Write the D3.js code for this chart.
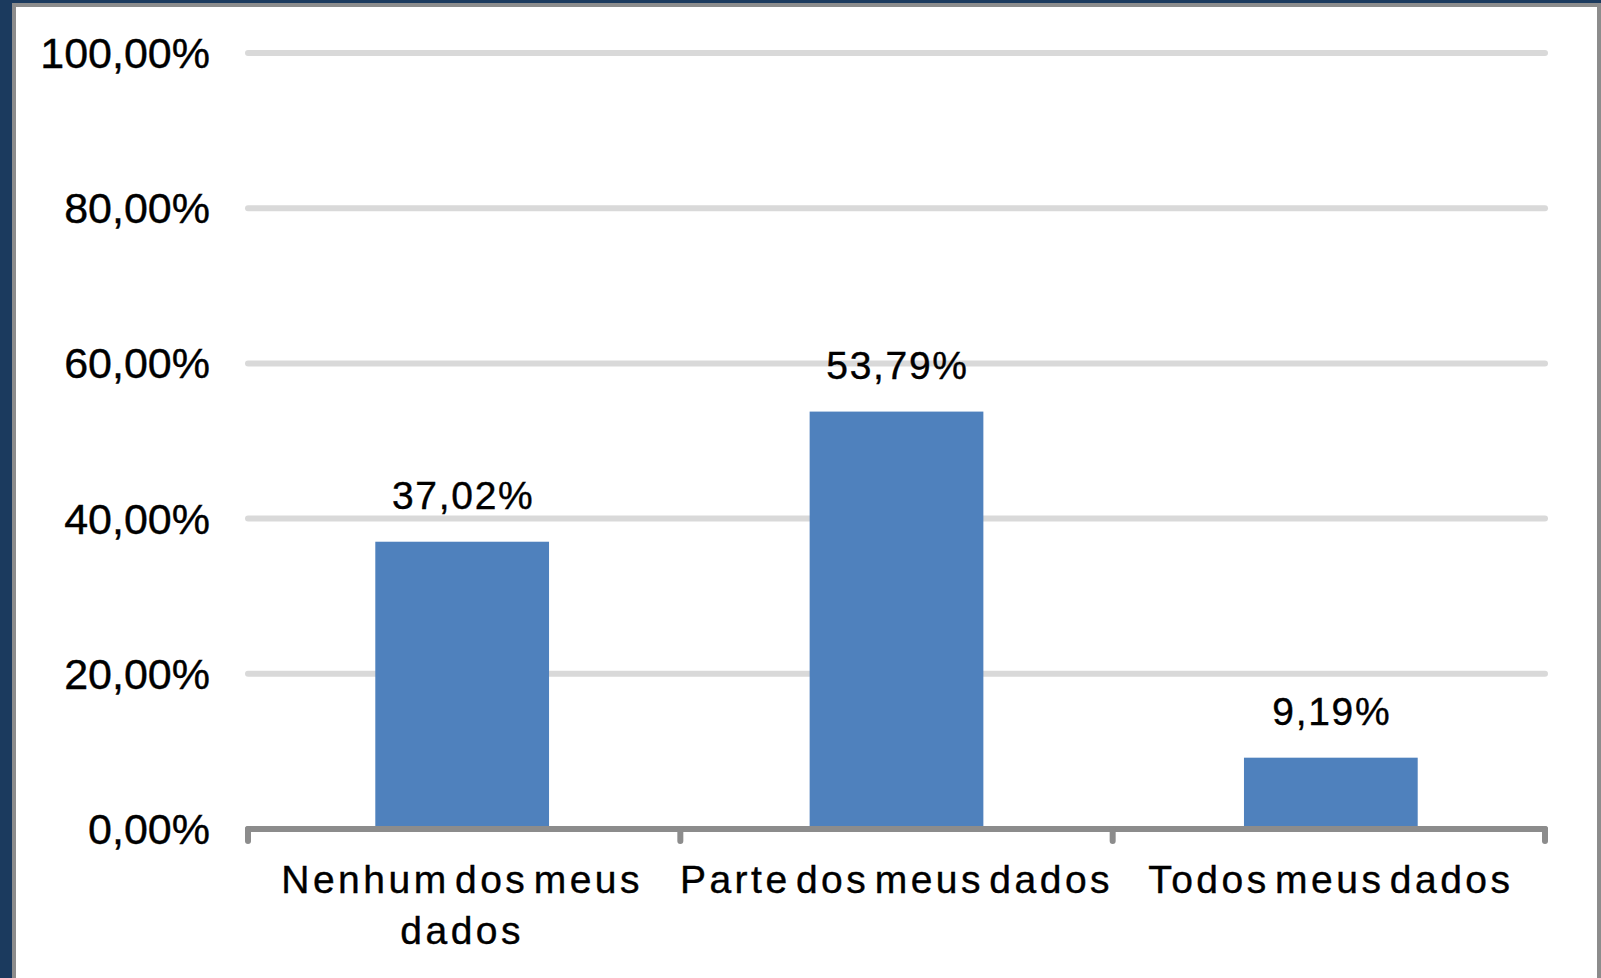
<!DOCTYPE html>
<html>
<head>
<meta charset="utf-8">
<script src="https://cdn.jsdelivr.net/npm/d3@7/dist/d3.min.js"></script>
<style>
  html, body { margin: 0; padding: 0; background: #1b3a5e; }
  svg { display: block; }
  text { font-family: "Liberation Sans", Arial, sans-serif; fill: #000; stroke: #000; stroke-width: 0.4px; }
</style>
</head>
<body>
<svg id="chart" width="1601" height="978"></svg>
<script>
const categories = [["Nenhum dos meus", "dados"], ["Parte dos meus dados"], ["Todos meus dados"]];
const values = [37.02, 53.79, 9.19];
const valueLabels = ["37,02%", "53,79%", "9,19%"];
const tickValues = [0, 20, 40, 60, 80, 100];
const tickLabels = ["0,00%", "20,00%", "40,00%", "60,00%", "80,00%", "100,00%"];

(function () {
const svg = d3.select("#chart");
const W = 1601, H = 978;

// frame
svg.append("rect").attr("x", 0).attr("y", 0).attr("width", W).attr("height", H).attr("fill", "#1b3a5e");
svg.append("rect").attr("x", 12).attr("y", 3).attr("width", W - 12).attr("height", H - 3).attr("fill", "#8c8c8c");
svg.append("rect").attr("x", 16).attr("y", 7).attr("width", W - 16 - 4).attr("height", H - 7).attr("fill", "#ffffff");

const pLeft = 245, pRight = 1548, pTop = 53, pBottom = 829;
const cap = 3;

const x = d3.scaleBand()
  .domain(d3.range(categories.length))
  .range([pLeft, pRight])
  .paddingInner(0.6)
  .paddingOuter(0.3);

const y = d3.scaleLinear().domain([0, 100]).range([pBottom, pTop]);

// gridlines
svg.append("g").selectAll("line")
  .data(tickValues.filter(d => d > 0))
  .join("line")
  .attr("x1", pLeft + cap).attr("x2", pRight - cap)
  .attr("y1", d => y(d)).attr("y2", d => y(d))
  .attr("stroke", "#d9d9d9").attr("stroke-width", 6).attr("stroke-linecap", "round");

// y tick labels
svg.append("g").selectAll("text")
  .data(tickValues)
  .join("text")
  .attr("x", 210)
  .attr("y", d => y(d) + 15)
  .attr("text-anchor", "end")
  .attr("font-size", 43)
  .text((d, i) => tickLabels[i]);

// bars
svg.append("g").selectAll("rect")
  .data(values)
  .join("rect")
  .attr("x", (d, i) => x(i))
  .attr("width", x.bandwidth())
  .attr("y", d => y(d))
  .attr("height", d => y(0) - y(d))
  .attr("fill", "#4f81bd");

// data labels
svg.append("g").selectAll("text")
  .data(values)
  .join("text")
  .attr("x", (d, i) => x(i) + x.bandwidth() / 2 + 1)
  .attr("y", d => y(d) - 33)
  .attr("text-anchor", "middle")
  .attr("font-size", 39)
  .attr("letter-spacing", 1.7)
  .text((d, i) => valueLabels[i]);

// x axis line with ticks
const boundaries = d3.range(categories.length + 1).map(i => pLeft + cap + i * (pRight - pLeft - 2 * cap) / categories.length);
const axis = svg.append("g");
axis.append("line")
  .attr("x1", pLeft + cap).attr("x2", pRight - cap)
  .attr("y1", y(0)).attr("y2", y(0))
  .attr("stroke", "#8c8c8c").attr("stroke-width", 6).attr("stroke-linecap", "round");
axis.selectAll("line.tick")
  .data(boundaries)
  .join("line")
  .attr("class", "tick")
  .attr("x1", d => d).attr("x2", d => d)
  .attr("y1", y(0)).attr("y2", y(0) + 12)
  .attr("stroke", "#8c8c8c").attr("stroke-width", 6).attr("stroke-linecap", "round");

// category labels
const catG = svg.append("g");
categories.forEach((lines, i) => {
  const t = catG.append("text")
    .attr("text-anchor", "middle")
    .attr("font-size", 39)
    .attr("letter-spacing", 3.5)
    .attr("word-spacing", -9)
    .attr("x", x(i) + x.bandwidth() / 2)
    .attr("y", 893);
  lines.forEach((ln, j) => {
    t.append("tspan")
      .attr("x", x(i) + x.bandwidth() / 2)
      .attr("dy", j === 0 ? 0 : 51)
      .text(ln);
  });
});
})();
</script>
</body>
</html>
